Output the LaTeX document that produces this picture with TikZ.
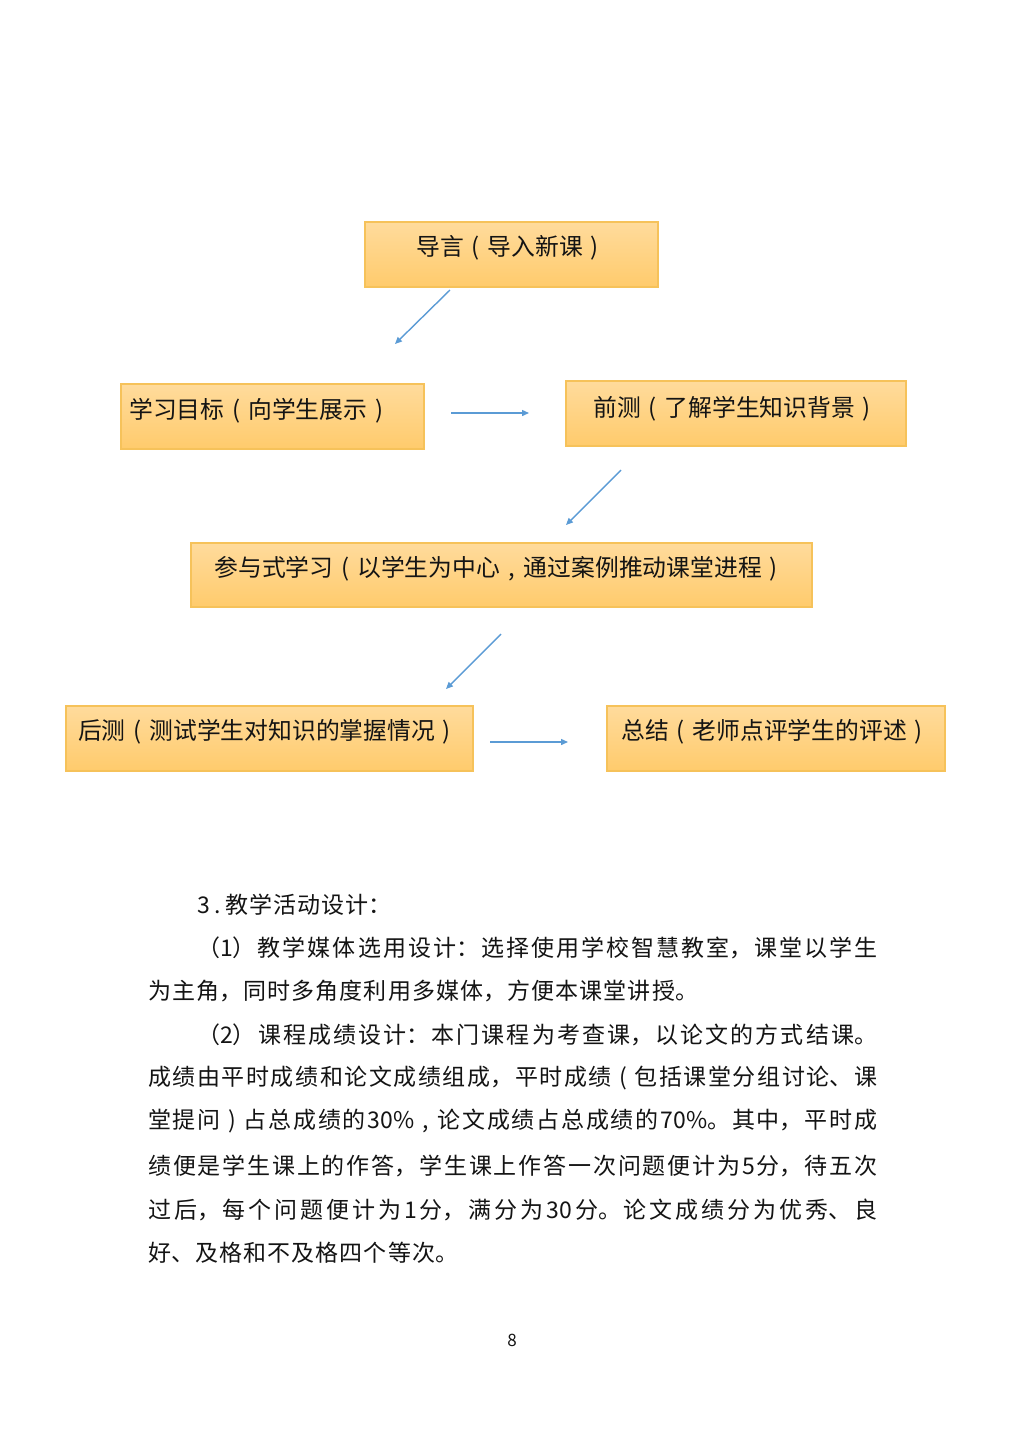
\documentclass[tikz,border=0pt]{standalone}
\usepackage{fontspec}
\setmainfont{Noto Sans CJK SC}
\usetikzlibrary{arrows.meta}
\definecolor{boxtop}{HTML}{FFDB9C}
\definecolor{boxbot}{HTML}{FFCB6C}
\definecolor{boxline}{HTML}{F6C25A}
\definecolor{flowblue}{HTML}{5B9BD5}
\definecolor{inkc}{HTML}{141414}
\newcommand\bodyline[3]{\parbox{#1}{\XeTeXlinebreaklocale "zh"\XeTeXlinebreakskip=1.1pt plus 5pt minus 0.6pt\tolerance=10000\parfillskip=#2\relax\noindent #3}}
\newcommand\cpu[1]{\makebox[1em][c]{#1}}
\tikzset{
  flowbox/.style={rectangle, draw=boxline, line width=1.2pt, top color=boxtop, bottom color=boxbot, inner sep=0pt},
  boxtext/.style={inner sep=0pt, font=\fontsize{23.8}{27}\selectfont, text=inkc},
  bodytext/.style={inner sep=0pt, anchor=west, font=\fontsize{23}{26}\selectfont, text=inkc},
  flowarrow/.style={draw=flowblue, line width=1.4pt, -{Triangle[length=7pt,width=6pt]}}
}
\begin{document}
\begin{tikzpicture}[x=1pt,y=-1pt]
\useasboundingbox[fill=white] (0,0) rectangle (1024,1449);
% boxes
\node[flowbox, minimum width=293pt, minimum height=65pt] (b1) at (511.5,254.5) {};
\node[flowbox, minimum width=303pt, minimum height=65pt] (b2) at (272.5,416.5) {};
\node[flowbox, minimum width=340pt, minimum height=65pt] (b3) at (736,413.5) {};
\node[flowbox, minimum width=621pt, minimum height=64pt] (b4) at (501.5,575) {};
\node[flowbox, minimum width=407pt, minimum height=65pt] (b5) at (269.5,738.5) {};
\node[flowbox, minimum width=338pt, minimum height=65pt] (b6) at (776,738.5) {};
% box texts
\node[boxtext] (t1) at (511.5,247.5) {导言\cpu{(}导入新课\cpu{)}};
\node[boxtext, anchor=west] (t2) at (129,410.5) {学习目标\cpu{(}向学生展示\cpu{)}};
\node[boxtext] (t3) at (736,408.5) {前测\cpu{(}了解学生知识背景\cpu{)}};
\node[boxtext] (t4) at (500,568.5) {参与式学习\cpu{(}以学生为中心\cpu{,}通过案例推动课堂进程\cpu{)}};
\node[boxtext] (t5) at (268.5,731.5) {后测\cpu{(}测试学生对知识的掌握情况\cpu{)}};
\node[boxtext] (t6) at (776,731.5) {总结\cpu{(}老师点评学生的评述\cpu{)}};
% arrow end points
\coordinate (a1s) at (450,290); \coordinate (a1e) at (395,344);
\coordinate (a2s) at (451,413); \coordinate (a2e) at (529,413);
\coordinate (a3s) at (621,470); \coordinate (a3e) at (566,525);
\coordinate (a4s) at (501,634); \coordinate (a4e) at (446,689);
\coordinate (a5s) at (490,742); \coordinate (a5e) at (568,742);
\draw[flowarrow] (a1s) -- (a1e);
\draw[flowarrow] (a2s) -- (a2e);
\draw[flowarrow] (a3s) -- (a3e);
\draw[flowarrow] (a4s) -- (a4e);
\draw[flowarrow] (a5s) -- (a5e);
% body text
\node[bodytext] (l1) at (197,905) {\bodyline{680pt}{0pt plus 1fil}{3\hspace{5pt}.\hspace{4pt}教学活动设计：}};
\node[bodytext] (l2) at (197,948) {\bodyline{680pt}{0pt}{（1）教学媒体选用设计：选择使用学校智慧教室，课堂以学生}};
\node[bodytext] (l3) at (148,991) {\bodyline{729pt}{0pt plus 1fil}{为主角，同时多角度利用多媒体，方便本课堂讲授。}};
\node[bodytext] (l4) at (197,1034.5) {\bodyline{680pt}{0pt}{（2）课程成绩设计：本门课程为考查课，以论文的方式结课。}};
\node[bodytext] (l5) at (148,1078) {\bodyline{729pt}{0pt}{成绩由平时成绩和论文成绩组成，平时成绩\cpu{(}包括课堂分组讨论、课}};
\node[bodytext] (l6) at (148,1121) {\bodyline{729pt}{0pt}{堂提问\cpu{)}占总成绩的30\%\cpu{,}论文成绩占总成绩的70\%。其中，平时成}};
\node[bodytext] (l7) at (148,1166) {\bodyline{729pt}{0pt}{绩便是学生课上的作答，学生课上作答一次问题便计为5分，待五次}};
\node[bodytext] (l8) at (148,1210) {\bodyline{729pt}{0pt}{过后，每个问题便计为1分，满分为30分。论文成绩分为优秀、良}};
\node[bodytext] (l9) at (148,1253) {\bodyline{729pt}{0pt plus 1fil}{好、及格和不及格四个等次。}};
\node[inner sep=0pt, font=\fontsize{17}{20}\selectfont, text=inkc] (pg) at (512,1340) {8};
\end{tikzpicture}
\end{document}
